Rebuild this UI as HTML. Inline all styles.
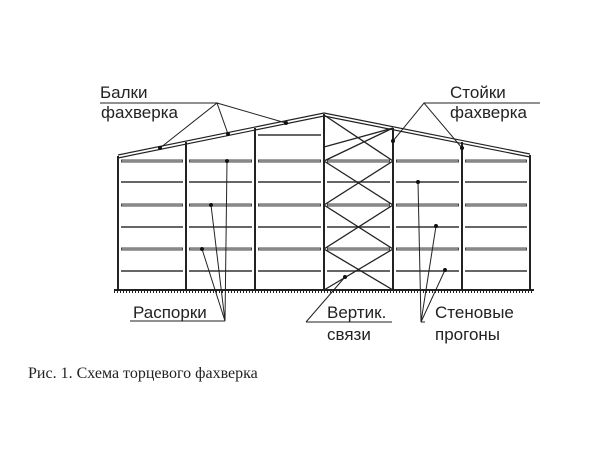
<!DOCTYPE html>
<html><head><meta charset="utf-8"><style>
body{margin:0;background:#fff}
svg{display:block}
.s{font-family:"Liberation Sans","DejaVu Sans",sans-serif;font-size:17px;fill:#222}
</style></head><body>
<svg width="600" height="450" viewBox="0 0 600 450" xmlns="http://www.w3.org/2000/svg">
<rect width="600" height="450" fill="#fff"/>
<g stroke="#222" fill="none">
<polyline points="118,155 324,113 530,154" stroke-width="1.2"/>
<polyline points="118,158 324,116 530,157" stroke-width="1.2"/>
<g stroke-width="2">
<line x1="118" y1="156" x2="118" y2="290"/>
<line x1="186" y1="142" x2="186" y2="290"/>
<line x1="255" y1="128" x2="255" y2="290"/>
<line x1="324" y1="114" x2="324" y2="290"/>
<line x1="393" y1="128" x2="393" y2="290"/>
<line x1="462" y1="142" x2="462" y2="290"/>
<line x1="530" y1="155" x2="530" y2="290"/>
</g>
<line x1="114" y1="290" x2="534" y2="290" stroke-width="2"/>
<line x1="114" y1="292" x2="534" y2="292" stroke-width="2" stroke-dasharray="1,2"/>
</g>
<g>
<g stroke="#444" stroke-width="3">
<path d="M121 161H183M189 161H252M258 161H321M327 161H390M396 161H459M465 161H527"/>
<path d="M121 205H183M189 205H252M258 205H321M327 205H390M396 205H459M465 205H527"/>
<path d="M121 249H183M189 249H252M258 249H321M327 249H390M396 249H459M465 249H527"/>
</g>
<g stroke="#ccc" stroke-width="1">
<path d="M122 161H182M190 161H251M259 161H320M328 161H389M397 161H458M466 161H526"/>
<path d="M122 205H182M190 205H251M259 205H320M328 205H389M397 205H458M466 205H526"/>
<path d="M122 249H182M190 249H251M259 249H320M328 249H389M397 249H458M466 249H526"/>
</g>
<g stroke="#333" stroke-width="1.4">
<path d="M121 182H183M189 182H252M258 182H321M327 182H390M396 182H459M465 182H527"/>
<path d="M121 227H183M189 227H252M258 227H321M327 227H390M396 227H459M465 227H527"/>
<path d="M121 271H183M189 271H252M258 271H321M327 271H390M396 271H459M465 271H527"/>
<path d="M258 135H321"/>
</g>
</g>
<g stroke="#222" stroke-width="1.3" fill="none">
<path d="M324 115L393 161L324 205L393 249L324 290"/>
<path d="M393 128L324 161L393 205L324 249L393 290"/>
<path d="M324 147L393 128"/>
</g>
<g stroke="#222" stroke-width="1" fill="none">
<line x1="100" y1="103" x2="217" y2="103"/>
<path d="M160 148L217 103L228 134M217 103L286 123"/>
<line x1="424" y1="103" x2="540" y2="103"/>
<path d="M393 141L424 103L462 148"/>
<line x1="130" y1="321" x2="225" y2="321"/>
<path d="M227 161L225 321L211 205M225 321L202 249"/>
<line x1="306" y1="322" x2="392" y2="322"/>
<path d="M306 322L345 277"/>
<line x1="421" y1="322" x2="425" y2="322"/>
<path d="M418 182L421 322L436 226M421 322L445 270"/>
</g>
<g fill="#111">
<circle cx="160" cy="148" r="2"/><circle cx="228" cy="134" r="2"/><circle cx="286" cy="123" r="2"/>
<circle cx="393" cy="141" r="2"/><circle cx="462" cy="148" r="2"/>
<circle cx="227" cy="161" r="2"/><circle cx="211" cy="205" r="2"/><circle cx="202" cy="249" r="2"/>
<circle cx="345" cy="277" r="2"/>
<circle cx="418" cy="182" r="2"/><circle cx="436" cy="226" r="2"/><circle cx="445" cy="270" r="2"/>
</g>
<text class="s" x="100" y="98">Балки</text>
<text class="s" x="101" y="118">фахверка</text>
<text class="s" x="450" y="98">Стойки</text>
<text class="s" x="450" y="118">фахверка</text>
<text class="s" x="133" y="318">Распорки</text>
<text class="s" x="327" y="318">Вертик.</text>
<text class="s" x="327" y="340">связи</text>
<text class="s" x="435" y="318">Стеновые</text>
<text class="s" x="435" y="340">прогоны</text>
<text x="28" y="378" font-family="'Liberation Serif',serif" font-size="16" fill="#222">Рис. 1. Схема торцевого фахверка</text>
</svg>
</body></html>
